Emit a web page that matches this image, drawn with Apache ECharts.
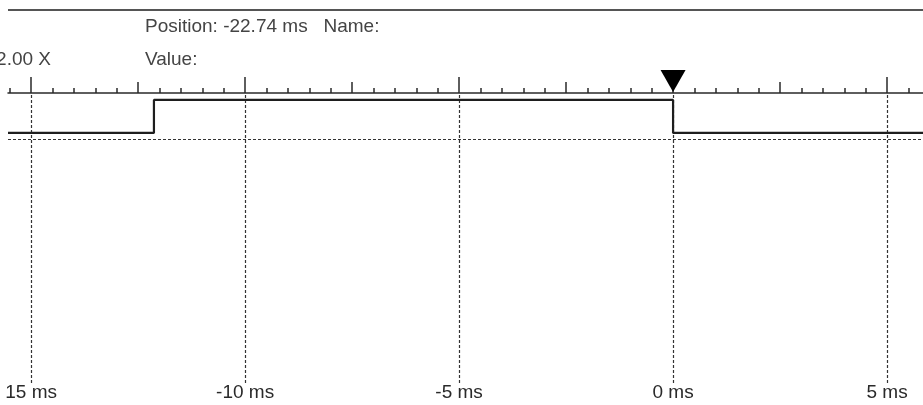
<!DOCTYPE html>
<html>
<head>
<meta charset="utf-8">
<title>Signal trace</title>
<script src="https://cdn.jsdelivr.net/npm/echarts@6/dist/echarts.min.js"></script>
<style>
html, body { margin: 0; padding: 0; background: #fff; }
#main { width: 923px; height: 405px; }
</style>
</head>
<body>
<div id="main"></div>
<script>
// visible window (ms)
var viewMin = -15.54;
var viewMax = 5.84;
// ruler ticks
var majorTicks = [-15, -10, -5, 0, 5];
var tickLabels = ["15 ms", "-10 ms", "-5 ms", "0 ms", "5 ms"];
var halfTicks = [-12.5, -7.5, -2.5, 2.5];
// signal (step, value holds until next time)
var edgeTimes = [-15.54, -12.13, 0, 5.84];
var edgeLevels = [0, 1, 0, 0];
var triggerTime = 0;
var baseLevel = -0.18;

// small ticks every 0.5 ms
var minorTicks = [];
for (var k = -31; k <= 11; k++) {
  if (k % 5 !== 0) minorTicks.push(k / 2);
}

var signalData = [];
for (var i = 0; i < edgeTimes.length; i++) {
  signalData.push([edgeTimes[i], edgeLevels[i]]);
}

var FONT = "Liberation Sans";
var INK = "#2a2a2a";

function rulerAxis(ticks, len, showLine) {
  return {
    type: "value",
    position: "top",
    min: viewMin,
    max: viewMax,
    axisLine: { show: showLine, onZero: false, lineStyle: { color: INK, width: 1.5 } },
    axisTick: { show: true, customValues: ticks, length: len, lineStyle: { color: INK, width: 1.5 } },
    axisLabel: { show: false },
    splitLine: { show: false }
  };
}

var myChart = echarts.init(document.getElementById("main"));
myChart.setOption({
  animation: false,
  grid: { left: 8, right: 0, top: 93, height: 290 },
  xAxis: [
    rulerAxis(majorTicks, 16, true),
    rulerAxis(halfTicks, 11, false),
    rulerAxis(minorTicks, 5, false),
    {
      type: "value",
      position: "bottom",
      min: viewMin,
      max: viewMax,
      axisLine: { show: false, onZero: false },
      axisTick: { show: false },
      splitLine: { show: false },
      axisLabel: {
        customValues: majorTicks,
        margin: 0,
        color: INK,
        fontFamily: FONT,
        fontSize: 19,
        formatter: function (v) {
          var idx = majorTicks.indexOf(v);
          return idx >= 0 ? tickLabels[idx] : "";
        }
      }
    }
  ],
  yAxis: {
    type: "value",
    min: -7.58,
    max: 1.21,
    show: false
  },
  series: [
    {
      type: "line",
      xAxisIndex: 0,
      step: "end",
      data: signalData,
      symbol: "none",
      lineStyle: { color: "#1e1e1e", width: 2.2 },
      z: 5,
      markLine: {
        silent: true,
        symbol: "none",
        label: { show: false },
        lineStyle: { color: "#333", width: 1.2, type: [3, 2] },
        data: majorTicks.map(function (t) { return { xAxis: t }; })
          .concat([{ yAxis: baseLevel }])
      },
      markPoint: {
        silent: true,
        symbol: "triangle",
        symbolRotate: 180,
        symbolSize: [25, 22],
        symbolOffset: [0, -12],
        itemStyle: { color: "#000" },
        label: { show: false },
        data: [{ coord: [triggerTime, 1.21] }]
      }
    }
  ],
  graphic: [
    {
      type: "line",
      shape: { x1: 8, y1: 10, x2: 923, y2: 10 },
      style: { stroke: "#555", lineWidth: 2 }
    },
    {
      type: "text",
      x: 145, y: 27,
      style: { text: "Position: -22.74 ms   Name:", font: "19px " + FONT, fill: "#444", verticalAlign: "middle" }
    },
    {
      type: "text",
      x: 145, y: 60,
      style: { text: "Value:", font: "19px " + FONT, fill: "#444", verticalAlign: "middle" }
    },
    {
      type: "text",
      x: 51, y: 60,
      style: { text: "2.00 X", font: "19px " + FONT, fill: "#444", align: "right", verticalAlign: "middle" }
    }
  ]
});
</script>
</body>
</html>
